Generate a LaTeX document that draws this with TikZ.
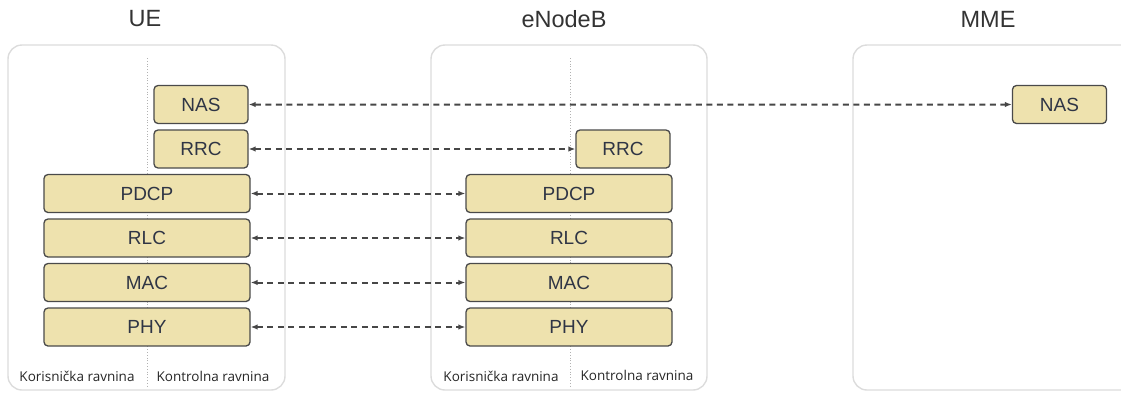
\documentclass[tikz,border=0pt]{standalone}
\usepackage{fontspec}
\setmainfont{Liberation Sans}
\newfontfamily\ravnfont{Open Sans}
\usetikzlibrary{positioning, arrows.meta}
\definecolor{slojfill}{HTML}{EEE2AE}
\definecolor{slojdraw}{HTML}{4A4A4A}
\definecolor{slojtext}{HTML}{2F3545}
\definecolor{okvirdraw}{HTML}{DCDCDC}
\tikzstyle{sloj}=[rectangle, rounded corners=4pt, align=center, fill=slojfill, draw=slojdraw, line width=1.3pt, text=slojtext, font=\fontsize{19}{22}\selectfont, minimum height=38pt, inner sep=0pt]
\tikzstyle{okvir}=[draw=okvirdraw, line width=1.4pt, rounded corners=14pt]
\tikzstyle{naslov}=[text=black!80, font=\fontsize{23.5}{26}\selectfont]
\tikzstyle{ravnina}=[text=black!85, font=\ravnfont\fontsize{13.5}{15}\selectfont]
\tikzstyle{granica}=[draw=black!30, dotted, line width=0.8pt]
\tikzstyle{dstrelica}=[{Latex[length=7pt,width=5.5pt]}-{Latex[length=7pt,width=5.5pt]}, line width=2pt, dash pattern=on 6pt off 4.5pt, draw=black!72]
\newcommand{\sir}{206pt}
\newcommand{\uzak}{94pt}

\begin{document}
\begin{tikzpicture}[x=1pt, y=-1pt]
    \useasboundingbox (0,0) rectangle (1121,394);

    % okviri
    \draw [okvir] (8,45) rectangle (285,390);
    \draw [okvir] (431,45) rectangle (707,390);
    \begin{scope}
      \clip (0,0) rectangle (1121,394);
      \draw [okvir] (853,45) rectangle (1140,390);
    \end{scope}

    \node [naslov] (ue) at (145,19) {UE};
    \node [naslov] (enb) at (564,19) {eNodeB};
    \node [naslov] (mme) at (988,19) {MME};

    \draw [granica] (147,58) -- (147,386);
    \draw [granica] (570,58) -- (570,386);

    % UE
    \node [sloj, minimum width=\sir] (uepdcp) at (147,193.5) {PDCP};
    \node [sloj, minimum width=\sir, below = 5.2pt of uepdcp] (uerlc) {RLC};
    \node [sloj, minimum width=\sir, below = 5.2pt of uerlc] (uemac) {MAC};
    \node [sloj, minimum width=\sir, below = 5.2pt of uemac] (uephy) {PHY};
    \node [sloj, minimum width=\uzak, above left = 5.2pt and 2pt of uepdcp.north east] (uerrc) {RRC};
    \node [sloj, minimum width=\uzak, above = 5.2pt of uerrc] (uenas) {NAS};

    % eNodeB
    \node [sloj, minimum width=\sir] (enbpdcp) at (569,193.5) {PDCP};
    \node [sloj, minimum width=\sir, below = 5.2pt of enbpdcp] (enbrlc) {RLC};
    \node [sloj, minimum width=\sir, below = 5.2pt of enbrlc] (enbmac) {MAC};
    \node [sloj, minimum width=\sir, below = 5.2pt of enbmac] (enbphy) {PHY};
    \node [sloj, minimum width=\uzak, above left = 5.2pt and 2pt of enbpdcp.north east] (enbrrc) {RRC};

    % MME
    \node [sloj, minimum width=\uzak] (mmenas) at (1059.5,104.5) {NAS};

    \draw [dstrelica] (uenas) -- (mmenas);
    \draw [dstrelica] (uerrc) -- (enbrrc);
    \draw [dstrelica] (uepdcp) -- (enbpdcp);
    \draw [dstrelica] (uerlc) -- (enbrlc);
    \draw [dstrelica] (uemac) -- (enbmac);
    \draw [dstrelica] (uephy) -- (enbphy);

    \node [ravnina] (uekor) at (77,376) {Korisnička ravnina};
    \node [ravnina] (uekon) at (213,376) {Kontrolna ravnina};
    \node [ravnina] (enbkor) at (501,376) {Korisnička ravnina};
    \node [ravnina] (enbkon) at (637,375) {Kontrolna ravnina};
  \end{tikzpicture}
\end{document}
